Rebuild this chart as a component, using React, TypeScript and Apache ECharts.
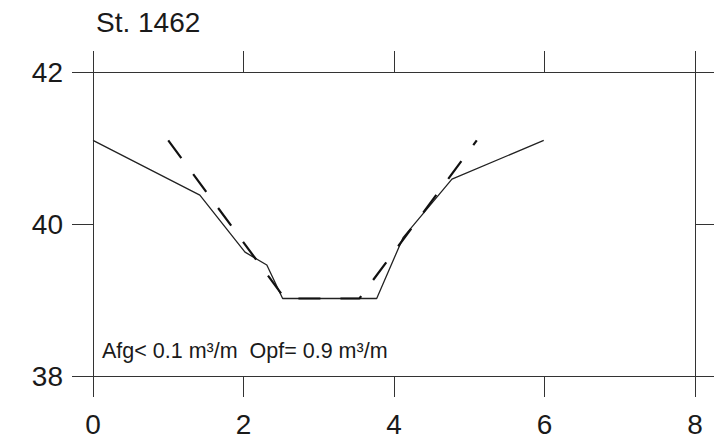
import React, { useEffect, useRef } from "react";
import * as echarts from "echarts";

const titleText = "St. 1462";
const annotationText = "Afg< 0.1 m³/m  Opf= 0.9 m³/m";

const xTicks = [0, 2, 4, 6, 8];
const yTicks = [38, 40, 42];

// measured profile (solid)
const profileX = [0, 1.42, 2.02, 2.31, 2.52, 3.77, 4.12, 4.77, 5.99];
const profileY = [41.1, 40.38, 39.63, 39.46, 39.02, 39.02, 39.82, 40.59, 41.1];

// design profile (dashed)
const designX = [1.0, 2.55, 3.54, 5.1];
const designY = [41.1, 39.02, 39.02, 41.1];

const FONT = "'Liberation Sans', Arial, Helvetica, sans-serif";
const INK = "#1a1a1a";
const AXIS = "#333";

export default function App() {
  const ref = useRef<HTMLDivElement>(null);

  useEffect(() => {
    if (!ref.current) return;
    const chart = echarts.init(ref.current, null, { renderer: "svg" });

    const xMin = xTicks[0];
    const xMax = xTicks[xTicks.length - 1];
    const yMin = yTicks[0];
    const yMax = yTicks[yTicks.length - 1];

    const axisLine = { show: true, onZero: false, lineStyle: { color: AXIS, width: 1 } };
    const tick = { show: true, inside: false, length: 21, lineStyle: { color: AXIS, width: 1 } };

    chart.setOption({
      animation: false,
      backgroundColor: "#fff",
      title: {
        text: titleText,
        left: 96,
        top: 8,
        padding: 0,
        textStyle: { fontSize: 28, fontWeight: "normal", color: INK, fontFamily: FONT },
      },
      grid: { left: 93, right: 19, top: 72, bottom: 63, containLabel: false },
      xAxis: [
        {
          type: "value",
          position: "bottom",
          min: xMin,
          max: xMax,
          interval: 2,
          axisLine,
          axisTick: tick,
          splitLine: { show: false },
          axisLabel: { show: true, margin: 34, fontSize: 28, color: INK, fontFamily: FONT },
        },
        {
          type: "value",
          position: "top",
          min: xMin,
          max: xMax,
          interval: 2,
          axisLine,
          axisTick: tick,
          splitLine: { show: false },
          axisLabel: { show: false },
        },
      ],
      yAxis: [
        {
          type: "value",
          position: "left",
          min: yMin,
          max: yMax,
          interval: 2,
          axisLine,
          axisTick: tick,
          splitLine: { show: false },
          axisLabel: { show: true, margin: 30, fontSize: 28, color: INK, fontFamily: FONT },
        },
        {
          type: "value",
          position: "right",
          min: yMin,
          max: yMax,
          interval: 2,
          axisLine,
          axisTick: tick,
          splitLine: { show: false },
          axisLabel: { show: false },
        },
      ],
      graphic: [
        {
          type: "text",
          left: 102,
          top: 340,
          style: { text: annotationText, font: `21.5px ${FONT}`, fill: INK },
        },
      ],
      series: [
        {
          type: "line",
          name: "profile",
          xAxisIndex: 0,
          yAxisIndex: 0,
          symbol: "none",
          data: profileX.map((x, i) => [x, profileY[i]]),
          lineStyle: { color: "#222", width: 1.3 },
        },
        {
          type: "line",
          name: "design",
          xAxisIndex: 0,
          yAxisIndex: 0,
          symbol: "none",
          data: designX.map((x, i) => [x, designY[i]]),
          lineStyle: { color: "#111", width: 2.2, type: [22, 20] },
        },
      ],
    });

    return () => chart.dispose();
  }, []);

  return (
    <div
      ref={ref}
      style={{ position: "fixed", left: 0, top: 0, width: 714, height: 439, background: "#fff" }}
    />
  );
}
